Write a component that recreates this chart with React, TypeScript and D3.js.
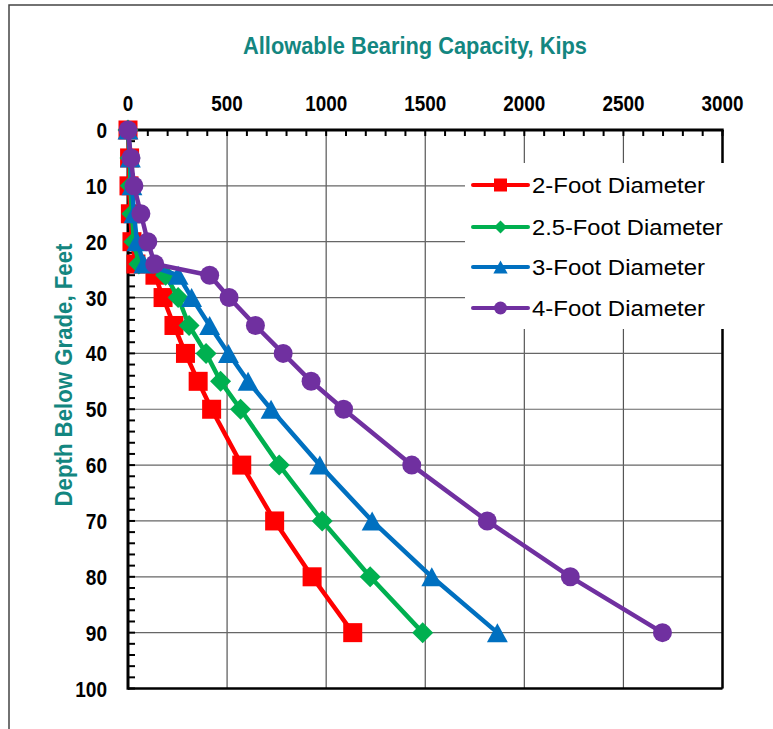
import React from "react";
import * as d3 from "d3";

const depths = [0, 5, 10, 15, 20, 24, 26, 30, 35, 40, 45, 50, 60, 70, 80, 90];
const twoFoot = [0, 8, 5, 12, 20, 40, 136, 177, 232, 290, 354, 422, 574, 740, 929, 1134];
const twoHalfFoot = [0, 10, 12, 20, 30, 55, 190, 253, 308, 394, 467, 568, 763, 980, 1222, 1487];
const threeFoot = [0, 12, 20, 30, 45, 80, 253, 321, 412, 507, 606, 722, 968, 1232, 1533, 1864];
const fourFoot = [0, 15, 30, 65, 100, 135, 412, 510, 643, 783, 924, 1088, 1432, 1813, 2232, 2697];

const seriesNames = ["2-Foot Diameter", "2.5-Foot Diameter", "3-Foot Diameter", "4-Foot Diameter"];
const seriesValues = [twoFoot, twoHalfFoot, threeFoot, fourFoot];
const seriesColors = ["#FF0000", "#00B050", "#0070C0", "#7030A0"];
const seriesMarkers = ["square", "diamond", "triangle", "circle"];

const xTicks = [0, 500, 1000, 1500, 2000, 2500, 3000];
const yTicks = [0, 10, 20, 30, 40, 50, 60, 70, 80, 90, 100];

const titleText = "Allowable Bearing Capacity, Kips";
const yTitleText = "Depth Below Grade, Feet";

const TEAL = "#138680";
const FONT = "'Liberation Sans', Arial, sans-serif";

function Marker({ type, cx, cy, s, color }: { type: string; cx: number; cy: number; s: number; color: string }) {
  if (type === "square") {
    return <rect x={cx - s / 2} y={cy - s / 2} width={s} height={s} fill={color} />;
  }
  if (type === "diamond") {
    const h = s / 2;
    return <path d={`M${cx},${cy - h}L${cx + h},${cy}L${cx},${cy + h}L${cx - h},${cy}Z`} fill={color} />;
  }
  if (type === "triangle") {
    const w = s * 0.55;
    const hh = s * 0.5;
    return <path d={`M${cx},${cy - hh}L${cx + w},${cy + hh}L${cx - w},${cy + hh}Z`} fill={color} />;
  }
  return <circle cx={cx} cy={cy} r={s / 2} fill={color} />;
}

export default function App() {
  const W = 773;
  const H = 729;
  const x = d3.scaleLinear().domain([0, 3000]).range([128, 722.5]);
  const y = d3.scaleLinear().domain([0, 100]).range([130, 688.5]);
  const [x0, x1] = x.range();
  const [y0, y1] = y.range();

  const line = d3
    .line<[number, number]>()
    .x((d) => x(d[0]))
    .y((d) => y(d[1]));

  const xMinor = d3.range(0, 3001, 100);
  const yMinor = d3.range(0, 101, 2);

  const markerSizes = [19, 21, 19, 19];
  const legendMarkerSizes = [13, 13, 13, 13];
  const legendRowsY = [185, 227, 267, 308];
  const legendWidths = [173, 191, 173, 173];

  return (
    <svg
      width={W}
      height={H}
      style={{ position: "absolute", left: 0, top: 0, background: "#fff" }}
      fontFamily={FONT}
    >
      <rect x={0} y={0} width={W} height={H} fill="#fff" />
      {/* outer chart border */}
      <rect x={9} y={5} width={W + 20} height={H + 20} fill="none" stroke="#444" strokeWidth={1.5} />

      {/* title */}
      <text x={415} y={54} textAnchor="middle" fontSize={24} fontWeight="bold" fill={TEAL} textLength={344} lengthAdjust="spacingAndGlyphs">
        {titleText}
      </text>

      {/* y title */}
      <text
        transform={`translate(72,375) rotate(-90)`}
        textAnchor="middle"
        fontSize={24}
        fontWeight="bold"
        fill={TEAL}
        textLength={263}
        lengthAdjust="spacingAndGlyphs"
      >
        {yTitleText}
      </text>

      {/* gridlines */}
      {xTicks.slice(1).map((t) => (
        <line key={"gx" + t} x1={x(t)} x2={x(t)} y1={y0} y2={y1} stroke="#555" strokeWidth={1.2} />
      ))}
      {yTicks.slice(1).map((t) => (
        <line key={"gy" + t} x1={x0} x2={x1} y1={y(t)} y2={y(t)} stroke="#666" strokeWidth={1.2} />
      ))}

      {/* minor ticks */}
      {xMinor.map((t) => (
        <line key={"mx" + t} x1={x(t)} x2={x(t)} y1={y0} y2={y0 + 6} stroke="#000" strokeWidth={2} />
      ))}
      {yMinor.map((t) => (
        <line key={"my" + t} x1={x0} x2={x0 + 7} y1={y(t)} y2={y(t)} stroke="#000" strokeWidth={2} />
      ))}

      {/* plot border */}
      <line x1={x1} x2={x1} y1={y0} y2={y1} stroke="#000" strokeWidth={2.5} />
      <line x1={x0} x2={x1} y1={y1} y2={y1} stroke="#000" strokeWidth={2.5} />
      <line x1={x0 - 1.5} x2={x1 + 1.2} y1={y0} y2={y0} stroke="#000" strokeWidth={3} />
      <line x1={x0} x2={x0} y1={y0} y2={y1 + 1.2} stroke="#000" strokeWidth={3} />

      {/* tick labels */}
      {xTicks.map((t) => (
        <text
          key={"tx" + t}
          x={x(t)}
          y={110.5}
          textAnchor="middle"
          fontSize={22}
          fontWeight="bold"
          fill="#000"
          textLength={String(t).length * 10.5}
          lengthAdjust="spacingAndGlyphs"
        >
          {t}
        </text>
      ))}
      {yTicks.map((t) => (
        <text
          key={"ty" + t}
          x={107}
          y={y(t) + 8}
          textAnchor="end"
          fontSize={22}
          fontWeight="bold"
          fill="#000"
          textLength={String(t).length * 10.6}
          lengthAdjust="spacingAndGlyphs"
        >
          {t}
        </text>
      ))}

      {/* series */}
      {seriesValues.map((vals, i) => {
        const pts: [number, number][] = vals.map((v, j) => [v, depths[j]]);
        return (
          <g key={"s" + i}>
            <path d={line(pts) || ""} fill="none" stroke={seriesColors[i]} strokeWidth={4.5} strokeLinejoin="round" />
            {pts.map((p, j) => (
              <Marker key={j} type={seriesMarkers[i]} cx={x(p[0])} cy={y(p[1])} s={markerSizes[i]} color={seriesColors[i]} />
            ))}
          </g>
        );
      })}

      {/* legend */}
      <rect x={465} y={163} width={270} height={166} fill="#fff" />
      {seriesNames.map((name, i) => (
        <g key={"lg" + i}>
          <line x1={473} x2={528} y1={legendRowsY[i]} y2={legendRowsY[i]} stroke={seriesColors[i]} strokeWidth={4} strokeLinecap="round" />
          <Marker type={seriesMarkers[i]} cx={500.5} cy={legendRowsY[i]} s={legendMarkerSizes[i]} color={seriesColors[i]} />
          <text
            x={532}
            y={legendRowsY[i] + 8}
            fontSize={22}
            fill="#000"
            textLength={legendWidths[i]}
            lengthAdjust="spacingAndGlyphs"
          >
            {name}
          </text>
        </g>
      ))}
    </svg>
  );
}
